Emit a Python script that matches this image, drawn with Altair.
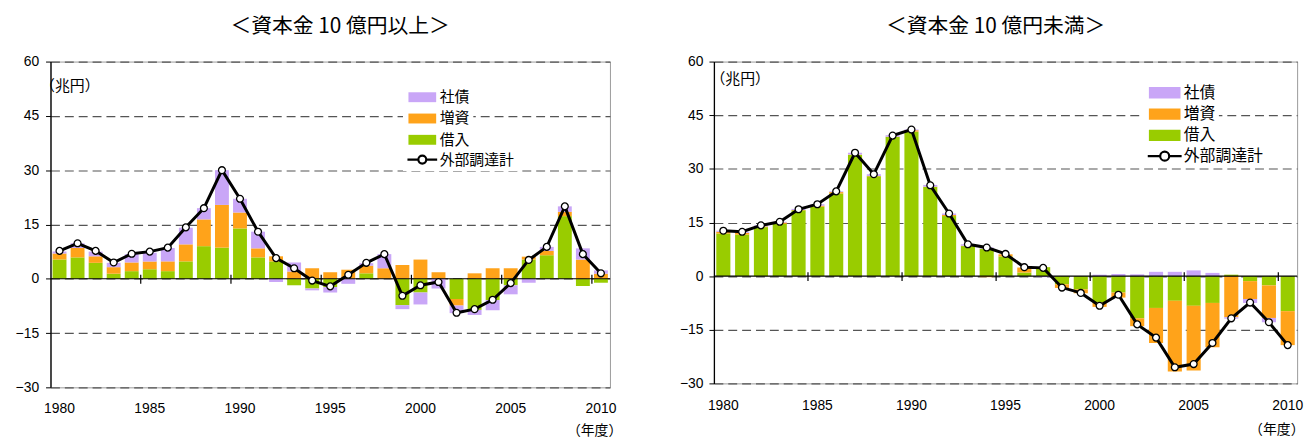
import altair as alt
import pandas as pd

years = list(range(1980, 2011))
label_years = [1980, 1985, 1990, 1995, 2000, 2005, 2010]
y_ticks = [-30, -15, 0, 15, 30, 45, 60]

# ---- 資本金10億円以上 ----
L_borrow = [5.3, 5.9, 4.4, 1.4, 2.1, 2.6, 2.1, 4.8, 9.0, 8.6, 13.9, 5.9, 4.8, -1.8, -2.7,
            -2.3, 0.0, 1.5, 0.0, -7.3, -3.8, 0.0, -5.6, -8.6, -5.9, -1.8, 5.3, 6.5, 17.3, -2.0, -1.1]
L_equity = [1.7, 2.6, 1.8, 1.8, 2.4, 2.2, 2.7, 4.7, 7.4, 11.8, 4.4, 2.5, 1.4, 2.0, 2.9,
            1.8, 2.5, 2.1, 2.9, 3.8, 5.3, 1.8, -1.8, 1.5, 2.9, 2.9, 0.8, 1.2, 1.2, 5.3, 1.4]
L_bonds = [0.5, 1.3, 1.3, 1.2, 2.3, 2.4, 3.7, 4.6, 3.1, 9.6, 3.8, 4.6, -0.9, 2.5, -0.5,
           -1.5, -1.4, 0.7, 3.9, -1.1, -3.3, -2.7, -2.1, -1.4, -2.8, -2.5, -1.1, 1.1, 1.5, 3.1, 0.9]
L_total = [7.7, 9.8, 7.7, 4.5, 6.9, 7.5, 8.6, 14.2, 19.5, 30.0, 22.1, 13.0, 5.7, 2.9, -0.5,
           -2.1, 1.1, 4.4, 6.8, -4.7, -1.8, -0.9, -9.4, -8.4, -5.8, -1.2, 5.2, 8.8, 20.0, 6.8, 1.5]

# ---- 資本金10億円未満 ----
R_borrow = [11.9, 11.6, 13.7, 14.6, 18.4, 19.4, 23.1, 33.9, 27.9, 38.9, 40.4, 24.9, 16.8, 8.4, 7.7,
            5.5, 1.0, 2.5, -2.3, -3.7, -7.4, -4.6, -11.8, -8.9, -6.9, -8.3, -7.5, 0.4, -1.4, -2.6, -9.8]
R_equity = [0.5, 0.5, 0.2, 0.4, 0.1, 0.3, 0.4, 0.1, 0.1, 0.1, 0.4, 0.1, 0.3, 0.1, -0.3,
            0.6, 1.4, 0.0, -1.0, -1.1, -1.2, -1.4, -2.2, -9.8, -19.8, -18.1, -12.4, -11.5, -5.0, -9.1, -9.5]
R_bonds = [0.3, 0.3, 0.3, 0.2, 0.3, 0.4, 0.2, 0.5, 0.5, 0.4, 0.2, 0.5, 0.4, 0.4, 0.3,
           0.0, 0.0, -0.3, 0.0, 0.0, 0.4, 0.6, 0.5, 1.2, 1.2, 1.6, 0.9, -0.4, -1.1, -1.2, 0.0]
R_total = [12.7, 12.4, 14.2, 15.2, 18.7, 20.1, 23.7, 34.5, 28.5, 39.3, 41.0, 25.4, 17.5, 8.9, 8.0,
           6.2, 2.5, 2.3, -3.2, -4.7, -8.3, -5.2, -13.5, -17.2, -25.5, -24.6, -18.7, -11.8, -7.4, -12.9, -19.3]

SERIES = ['社債', '増資', '借入']
COLORS = ['#c9a6f7', '#ffa31a', '#99cc00']
STACK_ORDER = {'借入': 0, '増資': 1, '社債': 2}
LINE_NAME = '外部調達計'

FONT = 'Noto Sans CJK JP'
NUMFONT = 'Liberation Sans'
RECT = 'M-2.8,-1H2.8V1H-2.8Z'
LINESYM = 'M-3,0H-0.8M0.8,0H3M0.8,0A0.8,0.8,0,1,1,-0.8,0A0.8,0.8,0,1,1,0.8,0Z'


def bars_frame(borrow, equity, bonds):
    rows = []
    for i, yr in enumerate(years):
        for name, vals in (('借入', borrow), ('増資', equity), ('社債', bonds)):
            rows.append({'year': yr, 'type': name, 'ord': STACK_ORDER[name], 'value': vals[i]})
    return pd.DataFrame(rows)


def panel(title, title_dx, borrow, equity, bonds, total, w, h, pad,
          lx, ly1, ly2, lfont, sym_size, row_pad, yt_x, yt_y, xt_x, xt_y, lab_pad_y, lab_pad_x):
    step = w / len(years)
    s = (sym_size ** 0.5) / 2
    xscale = alt.Scale(domain=years, paddingInner=pad, paddingOuter=pad / 2)
    xaxis = alt.Axis(values=label_years, labelAngle=0, domain=False, ticks=False, tickSize=0,
                     labelPadding=lab_pad_x, labelFont=NUMFONT, labelFontSize=14, labelColor='black',
                     grid=False, title='（年度）', titleX=xt_x, titleY=xt_y, titleFont=FONT,
                     titleFontSize=14, titleFontWeight='normal', titleColor='black',
                     titleAlign='center', titleBaseline='middle')
    yscale = alt.Scale(domain=[-30, 60], nice=False, zero=False)
    yaxis = alt.Axis(values=y_ticks, grid=True, gridDash=[9, 5], gridColor='#555555', gridWidth=1.2,
                     domainColor='black', domainWidth=1.3, tickColor='black', tickSize=5,
                     labelPadding=lab_pad_y, labelFont=NUMFONT, labelFontSize=14, labelColor='black',
                     title='（兆円）', titleAngle=0, titleX=yt_x, titleY=yt_y, titleAlign='left',
                     titleBaseline='middle', titleFont=FONT, titleFontSize=15,
                     titleFontWeight='normal', titleColor='black')

    bars = alt.Chart(bars_frame(borrow, equity, bonds)).mark_bar().encode(
        x=alt.X('year:O', scale=xscale, axis=xaxis),
        y=alt.Y('value:Q', stack='zero', scale=yscale, axis=yaxis),
        color=alt.Color('type:N', scale=alt.Scale(domain=SERIES, range=COLORS),
                        legend=alt.Legend(orient='none', legendX=lx, legendY=ly1, title=None,
                                          symbolType=RECT, symbolSize=sym_size,
                                          symbolOffset=1.8 * s, labelOffset=1.8 * s + 1,
                                          rowPadding=row_pad, labelFont=FONT, labelFontSize=lfont,
                                          labelColor='black', fillColor='white', padding=3,
                                          symbolStrokeWidth=0,
                                          labelExpr="datum.label + '\u3000\u3000\u3000'")),
        order=alt.Order('ord:Q'),
    )

    zero = alt.Chart(pd.DataFrame({'z': [0]})).mark_rule(color='black', strokeWidth=1.2).encode(
        y=alt.Y('z:Q', scale=yscale, axis=yaxis))

    ticks = alt.Chart(pd.DataFrame({'year': label_years[1:], 'z': [0] * 6})).mark_rule(
        color='black', strokeWidth=1.2, yOffset=-4, y2Offset=5, xOffset=-pad * step / 2
    ).encode(
        x=alt.X('year:O', bandPosition=0, scale=xscale, axis=xaxis),
        y=alt.Y('z:Q', scale=yscale, axis=yaxis),
        y2=alt.Y2('z'),
    )

    line_df = pd.DataFrame({'year': years, 'total': total, 'name': [LINE_NAME] * len(years)})
    line = alt.Chart(line_df).mark_line(strokeWidth=3).encode(
        x=alt.X('year:O', scale=xscale, axis=xaxis),
        y=alt.Y('total:Q', scale=yscale, axis=yaxis),
        stroke=alt.Stroke('name:N', scale=alt.Scale(domain=[LINE_NAME], range=['black']),
                          legend=alt.Legend(orient='none', legendX=lx, legendY=ly2, title=None,
                                            symbolType=LINESYM, symbolSize=sym_size,
                                            symbolOffset=1.8 * s, labelOffset=1.8 * s + 1,
                                            symbolFillColor='white', symbolStrokeWidth=2.2,
                                            labelFont=FONT, labelFontSize=lfont, labelColor='black',
                                            fillColor='white', padding=3)),
    )
    points = alt.Chart(line_df).mark_point(filled=True, fill='white', stroke='black',
                                           strokeWidth=1.3, size=48, opacity=1).encode(
        x=alt.X('year:O', scale=xscale, axis=xaxis),
        y=alt.Y('total:Q', scale=yscale, axis=yaxis),
    )

    return alt.layer(bars, zero, ticks, line, points).properties(
        width=w, height=h,
        title=alt.TitleParams(title, dx=title_dx, anchor='middle', font=FONT, fontSize=21,
                              fontWeight='normal', color='black', offset=18),
    )


left = panel('＜資本金 10 億円以上＞', 10, L_borrow, L_equity, L_bonds, L_total,
             565, 329, 0.23, 356, 25.5, 88.5, 15, 100, 5.5, -11, 24, 549, 44, 7, 14)
right = panel('＜資本金 10 億円未満＞', -10, R_borrow, R_equity, R_bonds, R_total,
              589, 325, 0.25, 434, 20.5, 84.5, 16, 130, 5.5, -4, 17, 568, 47, 6, 15)

chart = alt.hconcat(left, right, spacing=56).resolve_scale(
    color='independent', stroke='independent'
).resolve_legend(
    color='independent', stroke='independent'
).properties(
    padding={'left': 14, 'top': 13, 'right': 5, 'bottom': 0}
).configure_view(stroke='#9a9a9a', strokeWidth=1)

chart.save('out.html', embed_options={'renderer': 'svg', 'actions': False})
